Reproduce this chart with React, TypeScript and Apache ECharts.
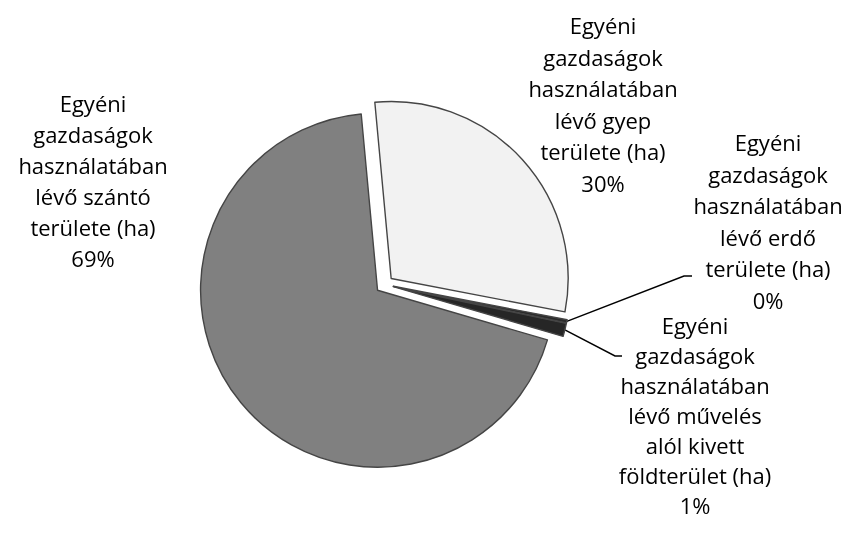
import React, { useEffect, useRef } from 'react';
import * as echarts from 'echarts';

const categories = [
  'Egyéni\ngazdaságok\nhasználatában\nlévő gyep\nterülete (ha)',
  'Egyéni\ngazdaságok\nhasználatában\nlévő erdő\nterülete (ha)',
  'Egyéni\ngazdaságok\nhasználatában\nlévő művelés\nalól kivett\nföldterület (ha)',
  'Egyéni\ngazdaságok\nhasználatában\nlévő szántó\nterülete (ha)',
];
const values = [29.5, 0.3, 1.2, 69.0];
const sliceColors = ['#f2f2f2', '#2b2b2b', '#262626', '#808080'];

const CX = 384.5;
const CY = 284.5;
const R = 177;
const OFFSET = 9;
const START = 95.3;
const labelPos = [
  { x: 603, y: 104, lh: 31.5 },
  { x: 768, y: 221, lh: 31.5 },
  { x: 695, y: 415, lh: 30 },
  { x: 93, y: 180, lh: 31 },
];
const elbows: (number[][] | null)[] = [
  null,
  [[684, 276], [692, 276]],
  [[615, 356], [622, 356]],
  null,
];

export default function App() {
  const ref = useRef<HTMLDivElement>(null);
  useEffect(() => {
    const chart = echarts.init(ref.current!, null, { renderer: 'svg' });
    const total = values.reduce((a, b) => a + b, 0);
    const midAngle = (i: number) => {
      let before = 0;
      for (let k = 0; k < i; k++) before += values[k];
      const f = (before + values[i] / 2) / total;
      return (-START * Math.PI) / 180 + f * 2 * Math.PI;
    };
    const series = categories.map((_, s) => {
      const a = midAngle(s);
      const cx = CX + OFFSET * Math.cos(a);
      const cy = CY + OFFSET * Math.sin(a);
      const edge = [cx + R * Math.cos(a), cy + R * Math.sin(a)];
      return {
        type: 'pie',
        center: [cx, cy],
        radius: R,
        startAngle: START,
        clockwise: true,
        silent: true,
        avoidLabelOverlap: false,
        percentPrecision: 0,
        emphasis: { disabled: true },
        label: {
          position: 'outside',
          formatter: '{b}\n{d}%',
          color: '#000',
          fontFamily: 'Open Sans',
          fontSize: 22,
          lineHeight: labelPos[s].lh,
          align: 'center',
        },
        labelLine: { lineStyle: { color: '#000', width: 1.5 } },
        labelLayout: () => {
          const pos = labelPos[s];
          const out: any = { x: pos.x, y: pos.y, align: 'center', verticalAlign: 'middle' };
          if (elbows[s]) out.labelLinePoints = [edge, ...(elbows[s] as number[][])];
          return out;
        },
        data: categories.map((name, i) => ({
          name,
          value: values[i],
          itemStyle:
            i === s
              ? { color: sliceColors[i], borderColor: '#454545', borderWidth: 1.4 }
              : { color: 'rgba(0,0,0,0)', borderWidth: 0 },
          label: { show: i === s },
          labelLine: { show: i === s && elbows[i] !== null },
        })),
      };
    });
    chart.setOption({ animation: false, series });
    return () => chart.dispose();
  }, []);
  return <div ref={ref} style={{ position: 'fixed', left: 0, top: 0, width: 849, height: 538 }} />;
}
